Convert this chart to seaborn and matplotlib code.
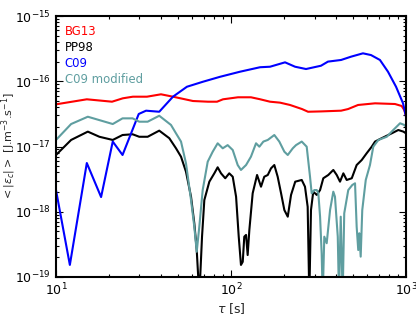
import numpy as np
import pandas as pd
import matplotlib
matplotlib.use('Agg')
import matplotlib.pyplot as plt
import seaborn as sns

# ── Data (tau in s, <|eps_c|> in J.m-3.s-1) ──
bg13_tau = [10, 15.0, 20.9, 24.1, 27.5, 33.1, 39.8, 46.6, 60.6, 73.9, 83.2, 90.0,
            109.6, 130.0, 146.5, 167.1, 190.6, 217.4, 254.5, 275.6, 326.7, 425.6,
            466.6, 532.1, 665.3, 865, 944, 977, 1000]
bg13_eps = [4.43e-17, 5.29e-17, 4.86e-17, 5.48e-17, 5.8e-17, 5.8e-17, 6.31e-17, 5.8e-17,
            4.98e-17, 4.86e-17, 4.86e-17, 5.29e-17, 5.68e-17, 5.68e-17, 5.3e-17, 4.86e-17,
            4.7e-17, 4.33e-17, 3.75e-17, 3.41e-17, 3.45e-17, 3.54e-17, 3.75e-17, 4.33e-17,
            4.59e-17, 4.48e-17, 4.18e-17, 3.62e-17, 2.93e-17]

pp98_tau = [10, 12.2, 15.2, 17.7, 21.1, 24.0, 27.4, 29.9, 33.4, 38.9, 44.4, 48.5, 51.8,
            55.3, 59.1, 61.7, 63.7, 65.9, 68.3, 70.4, 75.2, 80.3, 83.9, 87.7, 92.7, 97.7,
            102.3, 106.9, 110.7, 114.0, 116.7, 119.1, 121.9, 124.5, 127.3, 133.0, 140.9,
            148.4, 154.9, 162.2, 169.3, 176.8, 184.8, 193.2, 201.8, 211.0, 220.3, 232.8,
            253.6, 264.7, 274.2, 280.2, 286.4, 295.1, 309.0, 322.8, 336.8, 359.7, 384.2,
            401.8, 419.7, 438.5, 458.2, 489.8, 522.4, 558.5, 595.7, 636.8, 665.3, 726.1,
            827.9, 903.6, 966.1, 1000]
pp98_eps = [7.41e-18, 1.26e-17, 1.69e-17, 1.41e-17, 1.26e-17, 1.5e-17, 1.54e-17, 1.41e-17,
            1.41e-17, 1.75e-17, 1.34e-17, 9.38e-18, 6.98e-18, 4.11e-18, 1.7e-18, 6.65e-19,
            2.59e-19, 5e-20, 4.15e-19, 1.51e-18, 2.89e-18, 3.88e-18, 4.8e-18, 3.88e-18,
            3.26e-18, 3.88e-18, 3.44e-18, 1.7e-18, 4.15e-19, 1.53e-19, 1.71e-19, 4.15e-19,
            4.41e-19, 2.17e-19, 5.25e-19, 1.92e-18, 3.66e-18, 2.42e-18, 3.44e-18, 3.66e-18,
            4.63e-18, 5.2e-18, 3.44e-18, 1.92e-18, 1.06e-18, 8.4e-19, 1.81e-18, 2.89e-18,
            3.07e-18, 2.42e-18, 1.19e-18, 5e-20, 1.06e-18, 2.03e-18, 1.81e-18, 2.15e-18,
            3.26e-18, 3.66e-18, 4.37e-18, 3.66e-18, 2.89e-18, 3.88e-18, 3.07e-18, 3.26e-18,
            5.2e-18, 6.21e-18, 7.87e-18, 9.93e-18, 1.19e-17, 1.34e-17, 1.59e-17, 1.79e-17,
            1.69e-17, 1.59e-17]

c09_tau = [10, 12.0, 15.0, 18.1, 21.1, 24.0, 29.7, 32.7, 38.9, 46.6, 56.0, 69.2, 86.5,
           112.5, 146.5, 167.1, 203.6, 232.3, 268.3, 326.7, 358.1, 425.6, 485, 567.5,
           631, 709.6, 788.9, 877, 961.6, 1000]
c09_eps = [2.15e-18, 1.53e-19, 5.58e-18, 1.68e-18, 1.19e-17, 7.41e-18, 3.15e-17, 3.54e-17,
           3.41e-17, 5.8e-17, 8.24e-17, 9.84e-17, 1.17e-16, 1.40e-16, 1.64e-16, 1.67e-16,
           1.95e-16, 1.67e-16, 1.54e-16, 1.73e-16, 2.0e-16, 2.12e-16, 2.38e-16, 2.68e-16,
           2.52e-16, 2.12e-16, 1.40e-16, 8.24e-17, 4.59e-17, 2.86e-17]

c09m_tau = [10, 12.2, 15.2, 21.1, 24.0, 27.4, 29.9, 33.4, 38.9, 45.4, 48.5, 51.8, 55.3,
            59.1, 61.7, 63.7, 65.9, 68.9, 73.6, 78.6, 83.9, 89.7, 95.7, 102.3, 109.2,
            114.0, 121.9, 130.0, 139.0, 145.2, 153.1, 162.2, 176.8, 188.8, 201.8, 211.0,
            225.4, 235.2, 253.6, 270.7, 282.8, 289.0, 299.2, 309.0, 315.5, 322.8, 329.6,
            334.2, 341.3, 352.2, 368.1, 384.2, 392.7, 407.4, 414.0, 423.6, 434.5, 443.6,
            467.7, 493.2, 511.3, 522.4, 533.4, 540.8, 550.8, 562.3, 588.8, 622.3, 650.1,
            695, 776.2, 845.6, 924.7, 977.2, 1000]
c09m_eps = [1.26e-17, 2.21e-17, 2.86e-17, 2.21e-17, 2.7e-17, 2.7e-17, 2.4e-17, 2.4e-17,
            2.96e-17, 2.14e-17, 1.59e-17, 1.19e-17, 5.53e-18, 1.51e-18, 5.9e-19, 2.44e-19,
            5.9e-19, 2.15e-18, 5.85e-18, 8.32e-18, 1.12e-17, 9.38e-18, 1.05e-17, 8.83e-18,
            5.2e-18, 4.37e-18, 5.2e-18, 6.98e-18, 1.12e-17, 9.93e-18, 1.19e-17, 1.26e-17,
            1.5e-17, 1.19e-17, 8.32e-18, 7.41e-18, 9.38e-18, 1.05e-17, 1.19e-17, 9.93e-18,
            3.44e-18, 1.92e-18, 2.15e-18, 2.15e-18, 1.92e-18, 8.4e-19, 2.31e-19, 5e-20,
            4.15e-19, 3.29e-19, 1.06e-18, 2.03e-18, 1.7e-18, 4.15e-19, 5e-20, 8.4e-19,
            5e-20, 9.46e-19, 2.15e-18, 2.57e-18, 2.73e-18, 5.9e-19, 2.59e-19, 4.68e-19,
            2.05e-19, 1.06e-18, 3.07e-18, 5.2e-18, 9.93e-18, 1.26e-17, 1.41e-17, 1.79e-17,
            2.27e-17, 2.14e-17, 2.01e-17]

LABELS = ['BG13', 'PP98', 'C09', 'C09 modified']
COLORS = {'BG13': '#ff0000', 'PP98': '#000000', 'C09': '#0000ff', 'C09 modified': '#5f9ea0'}

frames = []
for name, tau, eps in zip(LABELS,
                          [bg13_tau, pp98_tau, c09_tau, c09m_tau],
                          [bg13_eps, pp98_eps, c09_eps, c09m_eps]):
    frames.append(pd.DataFrame({'tau': tau, 'eps': eps, 'model': name}))
df = pd.concat(frames, ignore_index=True)

# ── Style ───────────────────────────────────────────────────
sns.set_theme(style='ticks')
plt.rcParams['font.family'] = ['DejaVu Sans']
plt.rcParams.update({
    'xtick.direction': 'in', 'ytick.direction': 'in',
    'xtick.top': True, 'ytick.right': True,
    'xtick.major.size': 5, 'ytick.major.size': 5,
    'xtick.minor.size': 2.5, 'ytick.minor.size': 2.5,
    'xtick.color': 'black', 'ytick.color': 'black',
    'axes.edgecolor': 'black',
})

fig, ax = plt.subplots(figsize=(4.16, 3.19), dpi=100)
fig.subplots_adjust(left=0.1346, right=0.976, bottom=0.1317, top=0.9498)

sns.lineplot(data=df, x='tau', y='eps', hue='model', hue_order=LABELS,
             palette=COLORS, estimator=None, sort=False, linewidth=1.5,
             legend=False, ax=ax)

ax.set_xscale('log')
ax.set_yscale('log')
ax.set_xlim(10, 1000)
ax.set_ylim(1e-19, 1e-15)

for spine in ax.spines.values():
    spine.set_linewidth(1.5)
ax.tick_params(which='both', labelsize=9, width=0.8)

ax.set_xlabel(r'$\tau$ [s]', fontsize=9, labelpad=2)
ax.set_ylabel(r'$<|\epsilon_c|>$ [J.m$^{-3}$.s$^{-1}$]', fontsize=8)
ax.yaxis.set_label_coords(-0.108, 0.5)

# Text-only legend, coloured labels
handles = ax.get_lines()[:4]
leg = ax.legend(handles, LABELS, loc='upper left', frameon=False,
                handlelength=0, handletextpad=0, fontsize=8.4,
                labelspacing=0.26, borderaxespad=0.35)
for h in leg.legend_handles:
    h.set_visible(False)
for txt, name in zip(leg.get_texts(), LABELS):
    txt.set_color(COLORS[name])

fig.savefig('out.png', dpi=100)
